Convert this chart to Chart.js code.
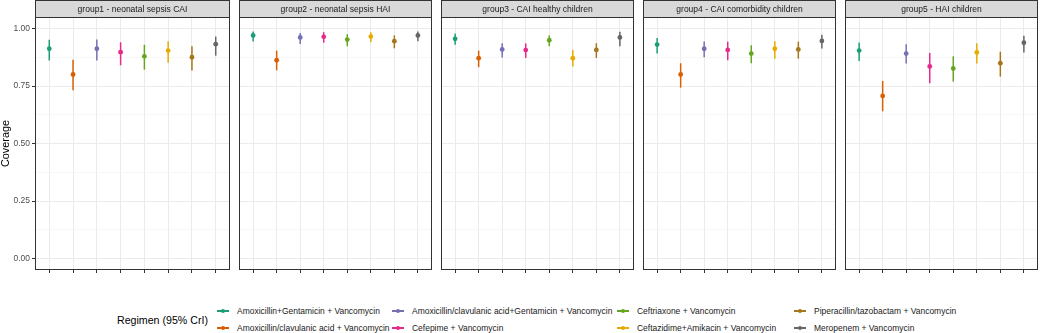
<!DOCTYPE html>
<html><head><meta charset="utf-8">
<script src="https://cdn.jsdelivr.net/npm/chart.js@4"></script>
<style>
html,body{margin:0;padding:0;background:#fff;}
#wrap{position:relative;width:1041px;height:333px;overflow:hidden;font-family:"Liberation Sans",Arial,sans-serif;}
.panel{position:absolute;top:0;}
.legtitle{position:absolute;color:#000;line-height:12px;white-space:nowrap;}
.legtext{position:absolute;color:#1A1A1A;line-height:10px;white-space:nowrap;}
.key{position:absolute;width:12px;height:0;}
.key .ln{position:absolute;left:0;top:-0.75px;width:12px;height:1.5px;}
.key .dt{position:absolute;left:3.8px;top:-2.2px;width:4.4px;height:4.4px;border-radius:50%;}
</style></head><body><div id="wrap"></div>
<script>
// ---- data ----
const groups = [
  "group1 - neonatal sepsis CAI",
  "group2 - neonatal sepsis HAI",
  "group3 - CAI healthy children",
  "group4 - CAI comorbidity children",
  "group5 - HAI children"
];
const regimens = [
  "Amoxicillin+Gentamicin + Vancomycin",
  "Amoxicillin/clavulanic acid + Vancomycin",
  "Amoxicillin/clavulanic acid+Gentamicin + Vancomycin",
  "Cefepime + Vancomycin",
  "Ceftriaxone + Vancomycin",
  "Ceftazidime+Amikacin + Vancomycin",
  "Piperacillin/tazobactam + Vancomycin",
  "Meropenem + Vancomycin"
];
const regimenColors = ["#1B9E77","#D95F02","#7570B3","#E7298A","#66A61E","#E6AB02","#A6761D","#666666"];

const group1Est = [0.912,0.800,0.912,0.897,0.879,0.904,0.875,0.932];
const group1Lo  = [0.861,0.731,0.861,0.840,0.821,0.851,0.817,0.882];
const group1Hi  = [0.951,0.864,0.952,0.940,0.929,0.945,0.923,0.965];

const group2Est = [0.970,0.862,0.961,0.964,0.952,0.965,0.945,0.970];
const group2Lo  = [0.943,0.818,0.933,0.938,0.923,0.940,0.914,0.945];
const group2Hi  = [0.987,0.904,0.980,0.984,0.975,0.984,0.970,0.987];

const group3Est = [0.955,0.871,0.909,0.906,0.949,0.871,0.907,0.961];
const group3Lo  = [0.929,0.832,0.874,0.872,0.923,0.835,0.872,0.923];
const group3Hi  = [0.978,0.904,0.936,0.935,0.970,0.906,0.936,0.986];

const group4Est = [0.930,0.800,0.912,0.907,0.891,0.912,0.909,0.946];
const group4Lo  = [0.891,0.743,0.875,0.862,0.849,0.869,0.869,0.913];
const group4Hi  = [0.959,0.849,0.943,0.943,0.927,0.945,0.943,0.973];

const group5Est = [0.904,0.707,0.891,0.835,0.826,0.896,0.849,0.938];
const group5Lo  = [0.859,0.640,0.848,0.762,0.769,0.848,0.791,0.896];
const group5Hi  = [0.939,0.772,0.932,0.894,0.879,0.936,0.899,0.968];

const yTickValues = [0, 0.125, 0.25, 0.375, 0.5, 0.625, 0.75, 0.875, 1];
const yTickLabels = ["0.00", "", "0.25", "", "0.50", "", "0.75", "", "1.00"];

const estSets = [group1Est, group2Est, group3Est, group4Est, group5Est];
const loSets  = [group1Lo, group2Lo, group3Lo, group4Lo, group5Lo];
const hiSets  = [group1Hi, group2Hi, group3Hi, group4Hi, group5Hi];

// ---- font sizing (fit measured reference text widths) ----
const FONT = '"Liberation Sans", Arial, sans-serif';
const mctx = document.createElement('canvas').getContext('2d');
function fitSize(text, targetW) {
  mctx.font = '100px ' + FONT;
  return +(100 * targetW / mctx.measureText(text).width).toFixed(2);
}
const STRIP_FS = fitSize(groups[0], 110);
const TICK_FS = fitSize("0.00", 16.5);
const LEG_FS = fitSize(regimens[0], 143);
const LEGTITLE_FS = fitSize("Regimen (95% CrI)", 91);
const AXTITLE_FS = fitSize("Coverage", 47);

// ---- layout ----
const wrap = document.getElementById('wrap');
const PANEL_W = 197, PANEL_STEP = 202, FIRST_LEFT = 35, STRIP_H = 17, CANVAS_H = 285, XAXIS_H = 15;

const panelFrame = {
  id: 'panelFrame',
  afterDatasetsDraw(chart, args, opts) {
    const {ctx, chartArea: a} = chart;
    ctx.save();
    ctx.strokeStyle = '#333333';
    ctx.lineWidth = 1;
    ctx.strokeRect(a.left + 0.5, a.top + 0.5, a.right - a.left - 1, a.bottom - a.top - 1);
    ctx.fillStyle = '#D9D9D9';
    ctx.fillRect(a.left + 0.5, 0.5, a.right - a.left - 1, a.top);
    ctx.strokeRect(a.left + 0.5, 0.5, a.right - a.left - 1, a.top);
    ctx.fillStyle = '#1A1A1A';
    ctx.font = STRIP_FS + 'px ' + FONT;
    ctx.textAlign = 'center';
    ctx.textBaseline = 'middle';
    ctx.fillText(opts.title, (a.left + a.right) / 2, a.top / 2 + 1);
    ctx.restore();
  }
};

function isMajor(v) { return Math.abs(v * 4 - Math.round(v * 4)) < 1e-6; }

groups.forEach((g, i) => {
  const first = i === 0;
  const padL = first ? 0 : 2;
  const yW = first ? 35 : 0;
  const left = FIRST_LEFT + PANEL_STEP * i - yW - padL;
  const w = yW + padL + PANEL_W + 2;
  const div = document.createElement('div');
  div.className = 'panel';
  div.style.left = left + 'px';
  div.style.width = w + 'px';
  div.style.height = CANVAS_H + 'px';
  const cv = document.createElement('canvas');
  cv.width = w; cv.height = CANVAS_H;
  cv.style.width = w + 'px'; cv.style.height = CANVAS_H + 'px';
  div.appendChild(cv);
  wrap.appendChild(div);

  new Chart(cv, {
    type: 'scatter',
    data: {
      datasets: [
        {
          type: 'scatter',
          order: 0,
          data: estSets[i].map((v, k) => ({x: k, y: v})),
          pointRadius: 2.4,
          pointBorderWidth: 0,
          pointBackgroundColor: regimenColors,
          pointBorderColor: regimenColors
        },
        {
          type: 'bar',
          order: 1,
          data: loSets[i].map((v, k) => ({x: k, y: [v, hiSets[i][k]]})),
          backgroundColor: regimenColors,
          borderWidth: 0,
          inflateAmount: 0,
          barThickness: 1.5
        }
      ]
    },
    options: {
      responsive: false,
      animation: false,
      devicePixelRatio: 1,
      layout: {padding: {top: STRIP_H, left: padL, right: 2, bottom: 0}},
      plugins: {legend: {display: false}, tooltip: {enabled: false}, panelFrame: {title: g}},
      scales: {
        x: {
          type: 'linear', min: -0.6, max: 7.6, offset: false,
          afterBuildTicks: s => { s.ticks = regimens.map((r, k) => ({value: k})); },
          afterFit: s => { s.height = XAXIS_H; },
          border: {display: false},
          grid: {color: '#EBEBEB', lineWidth: 1, offset: false, drawTicks: true, tickLength: 3, tickColor: '#333333', tickWidth: 1},
          ticks: {display: false}
        },
        y: {
          type: 'linear', min: -0.05, max: 1.05,
          afterBuildTicks: s => { s.ticks = yTickValues.map(v => ({value: v})); },
          afterFit: s => { s.width = yW; },
          border: {display: false},
          grid: {
            color: c => isMajor(c.tick.value) ? '#EBEBEB' : '#F3F3F3',
            lineWidth: c => isMajor(c.tick.value) ? 1 : 0.7,
            drawTicks: first, tickLength: 3,
            tickColor: c => isMajor(c.tick.value) ? '#333333' : 'rgba(0,0,0,0)',
            tickWidth: 1
          },
          ticks: {
            display: first, padding: 2, autoSkip: false, color: '#4D4D4D',
            font: {family: FONT, size: TICK_FS},
            callback: (v, idx) => yTickLabels[idx]
          },
          title: {display: first, text: 'Coverage', color: '#000000', font: {family: FONT, size: AXTITLE_FS}, padding: {top: 0, bottom: 0}}
        }
      }
    },
    plugins: [panelFrame]
  });
});

// ---- legend (HTML) ----
function addEl(cls, html, style) {
  const d = document.createElement('div');
  d.className = cls; d.innerHTML = html;
  Object.assign(d.style, style);
  wrap.appendChild(d);
  return d;
}
addEl('legtitle', 'Regimen (95% CrI)', {left: '117px', top: '314px', fontSize: LEGTITLE_FS + 'px'});
const legCols = [[0, 1], [2, 3], [4, 5], [6, 7]];
const legTextX = [237, 412, 637, 814];
const legRowY = [311, 328];
legCols.forEach((col, c) => {
  col.forEach((k, r) => {
    const key = addEl('key', '<div class="ln"></div><div class="dt"></div>', {left: (legTextX[c] - 20) + 'px', top: legRowY[r] + 'px'});
    key.querySelector('.ln').style.background = regimenColors[k];
    key.querySelector('.dt').style.background = regimenColors[k];
    addEl('legtext', regimens[k], {left: legTextX[c] + 'px', top: (legRowY[r] - 5) + 'px', fontSize: LEG_FS + 'px'});
  });
});
</script></body></html>
